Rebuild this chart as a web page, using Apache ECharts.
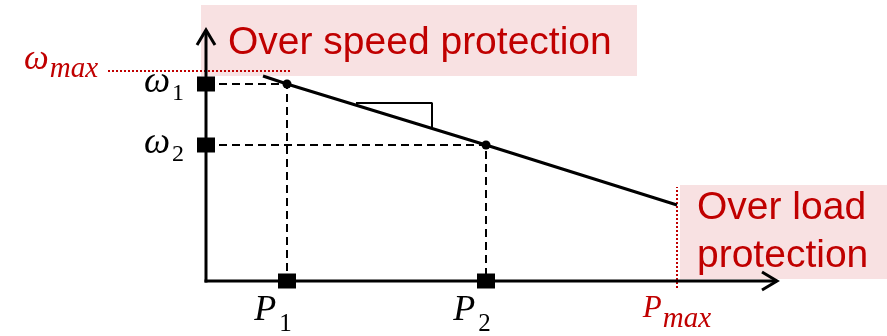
<!DOCTYPE html>
<html>
<head>
<meta charset="utf-8">
<script src="https://cdn.jsdelivr.net/npm/echarts@6/dist/echarts.min.js"></script>
<style>
  html, body { margin: 0; padding: 0; background: #fff; }
  #droop { width: 887px; height: 336px; }
</style>
</head>
<body>
<div id="droop"></div>
<script>
// droop characteristic, P on x, omega on y (units)
const droopP = [0.57, 0.81, 2.80, 4.71];
const droopW = [2.05, 1.97, 1.36, 0.76];
const opP = [0.81, 2.80];      // P1, P2
const opW = [1.97, 1.36];      // omega1, omega2
const opIdx = ["1", "2"];
const wMax = 2.10, wMaxFrom = -0.98, wMaxTo = 0.86;
const pMax = 4.71, pMaxFrom = -0.07, pMaxTo = 0.94;
const axisEnd = [5.71, 2.51];
const slopeP = [1.50, 2.26, 2.26];
const slopeW = [1.78, 1.78, 1.53];

const RED = "#c00000";
const PINK = "#f8e1e2";
const SERIF = "'Liberation Serif'";

const chart = echarts.init(document.getElementById("droop"));

// black operating-point labels (subscripts pushed down with top padding)
const richBlack = {
  w: { fontFamily: SERIF, fontStyle: "italic", fontSize: 37, color: "#000", verticalAlign: "top" },
  ws: { fontFamily: SERIF, fontSize: 24, color: "#000", verticalAlign: "top", padding: [18, 0, 0, 2] },
  p: { fontFamily: SERIF, fontStyle: "italic", fontSize: 36, color: "#000", verticalAlign: "top" },
  ps: { fontFamily: SERIF, fontSize: 25, color: "#000", verticalAlign: "top", padding: [19, 0, 0, 3] }
};
// red limit labels
const richRed = {
  mw: { fontFamily: SERIF, fontStyle: "italic", fontSize: 35, color: RED, verticalAlign: "top" },
  mp: { fontFamily: SERIF, fontStyle: "italic", fontSize: 31, color: RED, verticalAlign: "top" },
  s: { fontFamily: SERIF, fontStyle: "italic", fontSize: 29, color: RED, verticalAlign: "top", padding: [12, 0, 0, 1] }
};

const dashStyle = { color: "#000", width: 2, type: [8, 5] };

const option = {
  animation: false,
  grid: { left: 0, right: 81, top: 21, bottom: 55 },
  xAxis: { type: "value", min: -2.06, max: 6, show: false },
  yAxis: { type: "value", min: 0, max: 2.6, show: false },
  graphic: [
    { type: "rect", z: 0, shape: { x: 201, y: 5, width: 436, height: 71 }, style: { fill: PINK } },
    { type: "text", z: 1, x: 228, y: 43, style: { text: "Over speed protection", fill: RED, font: "39px 'Liberation Sans'", verticalAlign: "middle" } },
    { type: "rect", z: 0, shape: { x: 680, y: 185, width: 207, height: 94 }, style: { fill: PINK } },
    { type: "text", z: 1, x: 697, y: 208, style: { text: "Over load", fill: RED, font: "39px 'Liberation Sans'", verticalAlign: "middle" } },
    { type: "text", z: 1, x: 697, y: 256, style: { text: "protection", fill: RED, font: "39px 'Liberation Sans'", verticalAlign: "middle" } }
  ],
  series: [
    {
      // red dotted limits
      type: "line", name: "wmax", symbol: "none", silent: true,
      data: [[wMaxFrom, wMax], [wMaxTo, wMax]],
      lineStyle: { color: RED, width: 2, type: [2, 2] }
    },
    {
      type: "line", name: "pmax", clip: false, symbol: "none", silent: true,
      data: [[pMax, pMaxFrom], [pMax, pMaxTo]],
      lineStyle: { color: RED, width: 2, type: [2, 2] }
    },
    {
      type: "scatter", name: "limitLabels", clip: false, symbolSize: 0, silent: true,
      itemStyle: { opacity: 1 },
      data: [
        { value: [wMaxFrom, wMax], label: { position: "left", distance: 10, offset: [0, -8], formatter: "{mw|ω}{s|max}" } },
        { value: [pMax, pMaxFrom], label: { position: "bottom", distance: 5, formatter: "{mp|P}{s|max}" } }
      ],
      label: { show: true, rich: richRed }
    },
    {
      // guides to the axes
      type: "line", symbol: "none", silent: true,
      data: [[0, opW[0]], [opP[0], opW[0]], [opP[0], 0]],
      lineStyle: dashStyle
    },
    {
      type: "line", symbol: "none", silent: true,
      data: [[0, opW[1]], [opP[1], opW[1]], [opP[1], 0]],
      lineStyle: dashStyle
    },
    {
      // axes with open arrow heads
      type: "custom", clip: false, silent: true, z: 5,
      data: [[axisEnd[0], 0], [0, axisEnd[1]]],
      renderItem: (params, api) => {
        const o = api.coord([0, 0]);
        const e = api.coord([api.value(0), api.value(1)]);
        const dx = e[0] - o[0], dy = e[1] - o[1];
        const len = Math.hypot(dx, dy);
        const ux = dx / len, uy = dy / len;
        const back = 15, side = 9;
        const a1 = [e[0] - ux * back - uy * side, e[1] - uy * back + ux * side];
        const a2 = [e[0] - ux * back + uy * side, e[1] - uy * back - ux * side];
        return {
          type: "group",
          children: [
            { type: "line", shape: { x1: o[0] - ux * 1.5, y1: o[1] - uy * 1.5, x2: e[0], y2: e[1] }, style: { stroke: "#000", lineWidth: 3 } },
            { type: "polyline", shape: { points: [a1, e, a2] }, style: { stroke: "#000", lineWidth: 3, fill: null } }
          ]
        };
      }
    },
    {
      // droop line
      type: "line", symbol: "none", silent: true, z: 6,
      data: droopP.map((p, i) => [p, droopW[i]]),
      lineStyle: { color: "#000", width: 3 }
    },
    {
      type: "line", symbol: "none", silent: true, z: 6,
      data: slopeP.map((p, i) => [p, slopeW[i]]),
      lineStyle: { color: "#000", width: 2 }
    },
    {
      type: "scatter", symbol: "circle", symbolSize: 9, silent: true, z: 7,
      data: opP.map((p, i) => [p, opW[i]]),
      itemStyle: { color: "#000", opacity: 1 }
    },
    {
      // markers on the axes
      type: "scatter", symbol: "rect", symbolSize: [18, 15], silent: true, z: 7, clip: false,
      itemStyle: { color: "#000", opacity: 1 },
      label: { show: true, rich: richBlack },
      data: [
        ...opW.map((w, i) => ({ value: [0, w], label: { position: "left", distance: 13, offset: [0, 1], formatter: "{w|ω}{ws|" + opIdx[i] + "}" } })),
        ...opP.map((p, i) => ({ value: [p, 0], label: { position: "bottom", distance: 4, offset: [-14, 0], formatter: "{p|P}{ps|" + opIdx[i] + "}" } }))
      ]
    }
  ]
};

chart.setOption(option);
</script>
</body>
</html>
